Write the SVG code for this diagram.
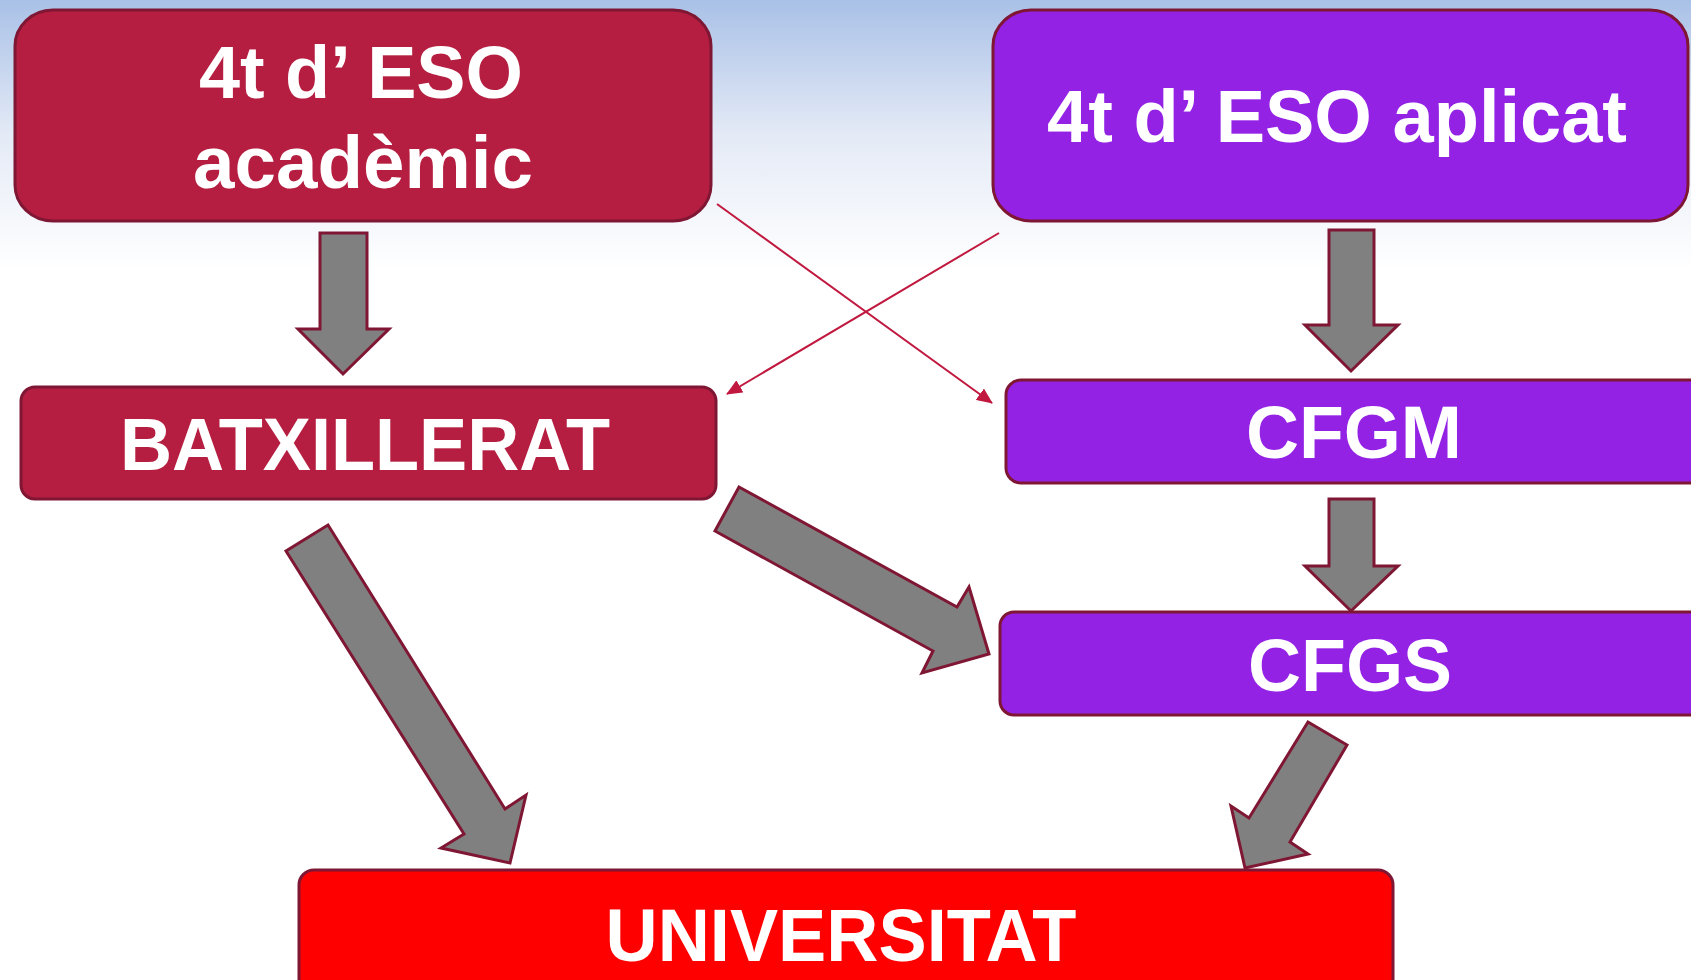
<svg xmlns="http://www.w3.org/2000/svg" width="1691" height="980" viewBox="0 0 1691 980">
<defs>
<linearGradient id="bg" x1="0" y1="0" x2="0" y2="1">
<stop offset="0" stop-color="#a9c1e7"/>
<stop offset="0.5" stop-color="#e4eaf6"/>
<stop offset="1" stop-color="#ffffff"/>
</linearGradient>
<marker id="ah" viewBox="0 0 16 14" refX="15" refY="7" markerWidth="16" markerHeight="14" markerUnits="userSpaceOnUse" orient="auto">
<path d="M0,0 L16,7 L0,14 Z" fill="#c0183f"/>
</marker>
<style>
.box{stroke:#7f1734;stroke-width:3}
.crim{fill:#b51e41}
.purp{fill:#9322e5}
.red{fill:#ff0000}
.lbl{font-family:"Liberation Sans",Arial,sans-serif;font-weight:bold;font-size:75px;fill:#ffffff;text-anchor:middle}
.blk{fill:#808080;stroke:#7f1734;stroke-width:3;stroke-linejoin:miter}
.thin{stroke:#c0183f;stroke-width:2;fill:none}
</style>
</defs>
<rect x="0" y="0" width="1691" height="270" fill="url(#bg)"/>
<rect x="0" y="270" width="1691" height="710" fill="#ffffff"/>

<g id="connectors">
<line class="thin" x1="717" y1="204" x2="992" y2="403" marker-end="url(#ah)"/>
<line class="thin" x1="999" y1="233" x2="727" y2="394" marker-end="url(#ah)"/>
<polygon class="blk" points="320,233 367,233 367,329 389,329 343,374 298,329 320,329"/>
<polygon class="blk" points="1329,230 1374,230 1374,325 1398,325 1351,371 1305,325 1329,325"/>
<polygon class="blk" points="1329,499 1374,499 1374,566 1398,566 1351,611 1305,566 1329,566"/>
<polygon class="blk" points="328,525 505,809 526,795 510,863 441,848 464,834 286,551"/>
<polygon class="blk" points="739,487 957,607 969,587 989,654 922,673 933,651 715,531"/>
<polygon class="blk" points="1308,722 1347,745 1290,842 1308,854 1245,868 1231,806 1249,818"/>
</g>

<g id="node-eso-academic">
<rect class="box crim" x="15" y="10" width="696" height="211" rx="38" ry="36"/>
<text class="lbl" x="361" y="98" textLength="324" lengthAdjust="spacingAndGlyphs">4t d’ ESO</text>
<text class="lbl" x="363" y="188" textLength="340" lengthAdjust="spacingAndGlyphs">acadèmic</text>
</g>

<g id="node-eso-aplicat">
<rect class="box purp" x="993" y="10" width="695" height="211" rx="38" ry="36"/>
<text class="lbl" x="1337" y="142" textLength="580" lengthAdjust="spacingAndGlyphs">4t d’ ESO aplicat</text>
</g>

<g id="node-batxillerat">
<rect class="box crim" x="21" y="387" width="695" height="112" rx="14" ry="14"/>
<text class="lbl" x="365" y="470" textLength="490" lengthAdjust="spacingAndGlyphs">BATXILLERAT</text>
</g>

<g id="node-cfgm">
<rect class="box purp" x="1006" y="380" width="700" height="103" rx="15" ry="15"/>
<text class="lbl" x="1354" y="458" textLength="216" lengthAdjust="spacingAndGlyphs">CFGM</text>
</g>

<g id="node-cfgs">
<rect class="box purp" x="1000" y="612" width="706" height="103" rx="14" ry="14"/>
<text class="lbl" x="1350" y="691" textLength="204" lengthAdjust="spacingAndGlyphs">CFGS</text>
</g>

<g id="node-universitat">
<rect class="box red" x="299" y="870" width="1094" height="130" rx="15" ry="15"/>
<text class="lbl" x="841" y="961" textLength="471" lengthAdjust="spacingAndGlyphs">UNIVERSITAT</text>
</g>
</svg>
